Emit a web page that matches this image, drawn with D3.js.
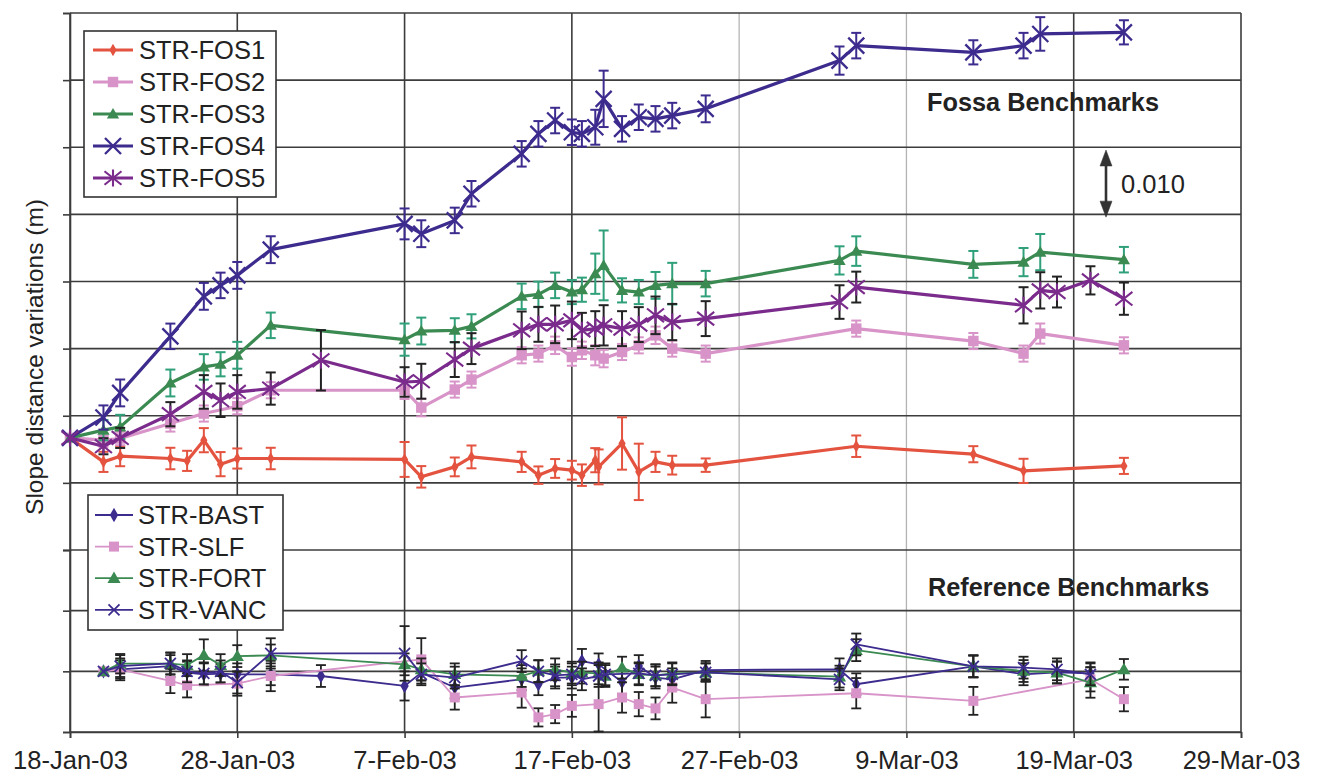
<!DOCTYPE html>
<html><head><meta charset="utf-8">
<script src="https://cdn.jsdelivr.net/npm/d3@7"></script>
<style>
body{margin:0;background:#fff}
svg{display:block}
text{font-family:"Liberation Sans",Arial,Helvetica,sans-serif;fill:#222}
</style>
</head><body>
<svg id="chart" width="1317" height="778"></svg>
<script>
// ---------- DATA (values in mm, days counted from 18-Jan-03) ----------
const BASE_DATE = "2003-01-18";
const X_TICKS = ["2003-01-18","2003-01-28","2003-02-07","2003-02-17","2003-02-27","2003-03-09","2003-03-19","2003-03-29"];

// Fossa benchmarks
const FOS1_DAYS = [0,2,3,6,7,8,9,10,12,20,21,23,24,27,28,29,30,30.6,31.4,31.6,33,34,35,36,38,47,54,57,63];
const FOS1_VAL  = [0,-3.57,-2.72,-3.07,-3.42,-0.34,-3.91,-3.07,-3.07,-3.21,-5.80,-4.32,-2.83,-3.57,-5.55,-4.55,-4.81,-5.55,-3.32,-4.32,-0.83,-5.06,-3.57,-4.06,-4.06,-1.24,-2.43,-4.91,-4.17];
const FOS1_ERR  = [0,1.5,1.5,1.6,1.5,1.8,1.8,1.5,1.6,2.6,1.6,1.4,1.7,1.5,1.3,1.4,1.4,1.6,1.8,2.6,3.9,4.2,1.5,1.4,1.0,1.6,1.2,1.8,1.2];

const FOS2_DAYS = [0,2,3,6,8,10,12,20,21,23,24,27,28,29,30,30.6,31.4,31.9,33,34,35,36,38,47,54,57,58,63];
const FOS2_VAL  = [0,-0.34,-0.09,2.14,3.63,4.72,7.10,7.10,4.52,7.20,8.69,12.31,12.56,13.79,12.05,13.05,12.31,11.82,12.80,13.79,15.28,13.30,12.56,16.28,14.43,12.56,15.54,13.79];
const FOS2_ERR  = [0,1.0,1.0,1.2,1.2,1.2,1.2,1.3,1.3,1.2,1.2,1.2,1.2,1.3,1.3,1.3,1.5,1.3,1.2,1.2,1.3,1.2,1.2,1.2,1.2,1.2,1.5,1.2];

const FOS3_DAYS = [0,2,3,6,8,9,10,12,20,21,23,24,27,28,29,30,30.6,31.4,31.9,33,34,35,36,38,46,47,54,57,58,63];
const FOS3_VAL  = [0,1.15,1.64,8.18,10.57,10.97,12.31,16.77,14.64,15.92,16.03,16.62,21.09,21.38,22.72,21.73,22.08,24.46,25.70,21.98,21.73,22.72,22.98,22.98,26.44,27.83,25.85,26.19,27.68,26.55];
const FOS3_ERR  = [0,1.5,1.8,2.0,1.9,1.8,2.0,1.9,2.4,2.0,1.8,1.8,1.9,1.9,1.9,1.8,1.8,3.0,5.2,1.8,1.8,2.0,3.1,1.9,2.1,2.2,2.0,2.1,2.7,1.9];

const FOS4_DAYS = [0,2,3,6,8,9,10,12,20,21,23,24,27,28,29,30,30.6,31.4,31.9,33,34,35,36,38,46,47,54,57,58,63];
const FOS4_VAL  = [0,3.04,6.70,15.13,21.09,22.72,24.21,28.04,31.88,30.42,32.40,36.37,42.32,45.30,47.28,45.54,45.30,46.28,50.51,46.04,47.77,47.53,48.02,49.02,56.21,58.44,57.44,58.44,60.18,60.42];
const FOS4_ERR  = [0,1.8,2.0,1.9,2.0,1.9,2.0,2.0,2.3,2.0,1.9,1.9,1.9,1.9,1.9,1.9,1.9,2.6,4.2,1.9,1.9,1.9,1.9,2.0,2.1,1.9,1.8,1.9,2.5,1.8];

const FOS5_DAYS = [0,2,3,6,8,9,10,12,15,20,21,23,24,27,28,29,30,30.6,31.4,31.9,33,34,35,36,38,46,47,57,58,59,61,63];
const FOS5_VAL  = [0,-1.24,0,3.53,6.85,5.61,6.85,7.35,11.56,8.33,8.44,11.67,13.30,16.03,16.92,16.92,17.51,16.03,16.28,16.77,16.28,16.88,18.26,17.26,17.77,20.24,22.47,19.75,21.98,21.73,23.47,20.74];
const FOS5_ERR  = [0,1.2,1.5,1.8,2.5,2.5,2.5,2.4,4.5,2.2,2.6,2.6,2.3,2.8,2.6,2.8,2.8,2.6,2.6,3.0,2.6,2.6,2.8,2.7,2.6,2.5,2.3,2.7,2.7,2.3,2.1,2.4];

// Reference benchmarks
const BAST_DAYS = [2,3,6,7,8,9,10,12,15,20,21,23,27,28,29,30,30.6,31.6,33,34,35,36,38,46,47,54,57,59,61];
const BAST_VAL  = [0,0.33,0.87,-0.21,-0.49,-0.38,-0.49,-0.49,-0.77,-2.41,-0.21,-2.67,-1.31,-2.13,-1.03,-1.03,1.69,1.15,-1.75,0.87,-1.03,-1.31,0.21,0.33,-2.13,0.82,-0.49,-0.16,-0.33];
const BAST_ERR  = [0,1.8,1.8,1.8,1.8,1.6,1.8,1.8,1.8,2.4,1.8,1.8,1.8,1.8,1.8,1.8,2.0,1.8,2.0,1.8,1.8,1.8,1.5,1.8,1.8,1.8,1.8,1.8,1.8];

const SLF_DAYS  = [2,3,6,7,10,12,21,23,27,28,29,30,31.6,33,34,35,36,38,47,54,61,63];
const SLF_VAL   = [0,0.33,-1.59,-2.30,-2.02,-0.77,1.97,-4.31,-3.49,-7.59,-7.05,-5.69,-5.41,-4.31,-5.41,-6.11,-2.67,-4.59,-3.61,-4.87,-1.31,-4.59];
const SLF_ERR   = [0,1.5,2.0,2.0,2.0,2.5,3.5,2.0,2.5,1.5,1.5,1.8,4.5,2.5,2.0,1.8,2.5,3.0,2.5,2.3,2.0,2.0];

const FORT_DAYS = [2,3,6,7,8,9,10,12,20,21,23,27,28,29,30,30.6,31.6,32,33,34,35,36,38,46,47,54,57,59,61,63];
const FORT_VAL  = [0,1.26,1.26,1.03,2.67,1.03,2.51,2.62,1.15,0.33,-0.49,-0.77,0.05,0.33,-0.21,-0.21,-0.33,-0.77,0.61,-0.49,-0.66,-0.33,-0.21,-0.87,3.49,0.82,0.05,-0.21,-1.85,0.33];
const FORT_ERR  = [0,1.6,1.8,1.8,2.6,1.8,1.8,1.8,1.8,1.8,1.8,1.8,1.8,1.8,1.8,1.8,1.8,1.8,1.8,1.8,1.8,1.8,1.5,1.8,1.8,1.8,1.8,1.8,2.5,1.7];

const VANC_DAYS = [2,3,6,7,8,9,10,12,20,21,23,27,28,29,30,30.6,31.6,32,34,35,36,38,46,47,54,57,59,61];
const VANC_VAL  = [0,0.87,1.31,0,-0.33,0,-1.85,2.95,2.95,-0.49,-1.03,1.69,0,-0.66,-0.49,-1.31,-0.77,-0.49,-0.33,-0.66,-0.49,-0.16,-1.31,4.43,0.82,0.61,0.33,-0.49];
const VANC_ERR  = [0,1.8,1.8,1.8,1.8,1.8,1.8,2.5,4.5,1.8,1.8,1.8,1.8,1.8,1.8,1.8,1.8,1.8,1.8,1.8,1.8,1.5,1.8,1.8,1.8,1.8,1.8,1.8];

const SCALE_BAR_MM = 10;   // "0.010" m arrow
const SCALE_BAR_LABEL = "0.010";
const Y_LABEL = "Slope distance variations (m)";

// ---------- STYLES ----------
const FOSSA = [
  {name:"STR-FOS1", days:FOS1_DAYS, val:FOS1_VAL, err:FOS1_ERR, color:"#e4533f", errColor:"#e4533f", marker:"diamond"},
  {name:"STR-FOS2", days:FOS2_DAYS, val:FOS2_VAL, err:FOS2_ERR, color:"#d894c8", errColor:"#d894c8", marker:"square"},
  {name:"STR-FOS3", days:FOS3_DAYS, val:FOS3_VAL, err:FOS3_ERR, color:"#3b8a52", errColor:"#2fa07a", marker:"triangle"},
  {name:"STR-FOS4", days:FOS4_DAYS, val:FOS4_VAL, err:FOS4_ERR, color:"#3d2b8e", errColor:"#3d2b8e", marker:"x"},
  {name:"STR-FOS5", days:FOS5_DAYS, val:FOS5_VAL, err:FOS5_ERR, color:"#7a2b8c", errColor:"#222222", marker:"star"}
];
const REFS = [
  {name:"STR-BAST", days:BAST_DAYS, val:BAST_VAL, err:BAST_ERR, color:"#3d2b8e", errColor:"#222222", marker:"diamond"},
  {name:"STR-SLF",  days:SLF_DAYS,  val:SLF_VAL,  err:SLF_ERR,  color:"#d894c8", errColor:"#222222", marker:"square"},
  {name:"STR-FORT", days:FORT_DAYS, val:FORT_VAL, err:FORT_ERR, color:"#3b8a52", errColor:"#222222", marker:"triangle"},
  {name:"STR-VANC", days:VANC_DAYS, val:VANC_VAL, err:VANC_ERR, color:"#3d2b8e", errColor:"#222222", marker:"x"}
];
const LIGHT_GRID = ["2003-02-27","2003-03-09"];

// ---------- SCALES ----------
const svg = d3.select("#chart");
const L = 70, R = 1241, TOP = 13, MID = 550, BOT = 732;
const base = new Date(BASE_DATE + "T00:00:00Z");
const toDate = d => new Date(base.getTime() + d * 86400000);
const tickDates = X_TICKS.map(s => new Date(s + "T00:00:00Z"));
const x = d3.scaleUtc().domain([tickDates[0], tickDates[tickDates.length-1]]).range([L, R]);
const yU = d3.scaleLinear().domain([-16.7, 63.3]).range([MID, TOP]);
const yL = d3.scaleLinear().domain([-10, 20]).range([BOT, MID]);
const gridU = d3.range(9).map(k => -16.7 + 10 * k);
const gridL = [-10, 0, 10];

// ---------- GRID ----------
const grid = svg.append("g");
tickDates.forEach((d, i) => {
  const light = LIGHT_GRID.includes(X_TICKS[i]);
  grid.append("line").attr("x1", x(d)).attr("x2", x(d)).attr("y1", TOP).attr("y2", BOT)
    .attr("stroke", light ? "#b4b4b4" : "#3c3c3c").attr("stroke-width", light ? 1.3 : 1.6);
});
gridU.forEach(v => grid.append("line").attr("x1", L).attr("x2", R).attr("y1", yU(v)).attr("y2", yU(v))
  .attr("stroke", "#3c3c3c").attr("stroke-width", 1.6));
gridL.forEach(v => grid.append("line").attr("x1", L).attr("x2", R).attr("y1", yL(v)).attr("y2", yL(v))
  .attr("stroke", "#3c3c3c").attr("stroke-width", 1.6));

// left axis ticks
const axU = svg.append("g").attr("transform", `translate(${L},0)`)
  .call(d3.axisLeft(yU).tickValues(gridU).tickSize(7).tickFormat(""));
const axL = svg.append("g").attr("transform", `translate(${L},0)`)
  .call(d3.axisLeft(yL).tickValues(gridL).tickSize(7).tickFormat(""));
[axU, axL].forEach(a => { a.select(".domain").attr("stroke", "#3c3c3c").attr("stroke-width", 1.6);
  a.selectAll(".tick line").attr("stroke", "#3c3c3c").attr("stroke-width", 1.6); });

// bottom axis
const axB = svg.append("g").attr("transform", `translate(0,${BOT})`)
  .call(d3.axisBottom(x).tickValues(tickDates).tickSize(6).tickPadding(13).tickFormat(d3.utcFormat("%-d-%b-%y")));
axB.select(".domain").attr("stroke", "#3c3c3c").attr("stroke-width", 1.6);
axB.selectAll(".tick line").attr("stroke", "#3c3c3c").attr("stroke-width", 1.6);
axB.selectAll(".tick text").attr("font-size", 25.5).attr("font-family", "Liberation Sans, Arial, sans-serif").attr("fill", "#222");

// ---------- MARKERS ----------
function marker(g, type, cx, cy, color, big) {
  if (type === "diamond") {
    g.append("path").attr("d", d3.symbol(d3.symbolDiamond, big ? 45 : 60)()).attr("transform", `translate(${cx},${cy})`).attr("fill", color);
  } else if (type === "square") {
    g.append("path").attr("d", d3.symbol(d3.symbolSquare, big ? 110 : 100)()).attr("transform", `translate(${cx},${cy})`).attr("fill", color);
  } else if (type === "triangle") {
    g.append("path").attr("d", d3.symbol(d3.symbolTriangle, big ? 65 : 75)()).attr("transform", `translate(${cx},${cy+1})`).attr("fill", color);
  } else if (type === "x") {
    const s = big ? 8 : 5.5;
    g.append("path").attr("d", `M${-s},${-s}L${s},${s}M${-s},${s}L${s},${-s}`).attr("transform", `translate(${cx},${cy})`)
      .attr("stroke", color).attr("stroke-width", big ? 2.3 : 1.8).attr("fill", "none");
  } else if (type === "star") {
    const s = 8.5;
    g.append("path").attr("d", `M${-s},${-s*0.8}L${s},${s*0.8}M${-s},${s*0.8}L${s},${-s*0.8}M0,${-s}L0,${s}`).attr("transform", `translate(${cx},${cy})`)
      .attr("stroke", color).attr("stroke-width", 2.1).attr("fill", "none");
  }
}

function drawSeries(s, y, big) {
  const g = svg.append("g");
  const pts = s.days.map((d, i) => ({px: x(toDate(d)), py: y(s.val[i]), v: s.val[i], e: s.err[i]}));
  const eb = g.append("g").attr("stroke", s.errColor).attr("stroke-width", big ? 2 : 1.8);
  const cap = 5;
  pts.forEach(p => {
    if (!p.e) return;
    const y1 = y(p.v + p.e), y2 = y(p.v - p.e);
    eb.append("line").attr("x1", p.px).attr("x2", p.px).attr("y1", y1).attr("y2", y2);
    eb.append("line").attr("x1", p.px - cap).attr("x2", p.px + cap).attr("y1", y1).attr("y2", y1);
    eb.append("line").attr("x1", p.px - cap).attr("x2", p.px + cap).attr("y1", y2).attr("y2", y2);
  });
  g.append("path").datum(pts).attr("d", d3.line().x(p => p.px).y(p => p.py))
    .attr("fill", "none").attr("stroke", s.color).attr("stroke-width", big ? 3.2 : 1.8).attr("stroke-linejoin", "round");
  const mg = g.append("g");
  pts.forEach(p => marker(mg, s.marker, p.px, p.py, s.color, big));
}

REFS.forEach(s => drawSeries(s, yL, false));
FOSSA.forEach(s => drawSeries(s, yU, true));

// ---------- LEGENDS ----------
function legend(items, bx, by, bw, bh, y0, dy, lx1, lx2, tx, big) {
  const g = svg.append("g");
  g.append("rect").attr("x", bx).attr("y", by).attr("width", bw).attr("height", bh)
    .attr("fill", "#fff").attr("stroke", "#333").attr("stroke-width", 1.6);
  items.forEach((s, i) => {
    const yy = y0 + dy * i;
    g.append("line").attr("x1", lx1).attr("x2", lx2).attr("y1", yy).attr("y2", yy)
      .attr("stroke", s.color).attr("stroke-width", big ? 3.2 : 1.8);
    marker(g, s.marker, (lx1 + lx2) / 2, yy, s.color, big);
    g.append("text").attr("x", tx).attr("y", yy).attr("dy", "0.36em").attr("font-size", 25.5).text(s.name);
  });
}
legend(FOSSA, 84, 31, 192, 166, 50, 32, 93, 133, 139, true);
legend(REFS, 88, 495, 195, 135, 515, 31.6, 95, 133, 138, false);

// ---------- ANNOTATIONS ----------
svg.append("text").attr("x", 927).attr("y", 102).attr("dy", "0.36em").attr("font-size", 25.3).attr("font-weight", "bold")
  .text("Fossa Benchmarks");
svg.append("text").attr("x", 928).attr("y", 587).attr("dy", "0.36em").attr("font-size", 25.3).attr("font-weight", "bold")
  .text("Reference Benchmarks");

// scale arrow: length = 10 mm on the upper scale
const ax = 1106, aTop = 150, aBot = aTop + (yU(0) - yU(SCALE_BAR_MM));
const ag = svg.append("g").attr("fill", "#333").attr("stroke", "#333");
ag.append("line").attr("x1", ax).attr("x2", ax).attr("y1", aTop + 10).attr("y2", aBot - 10).attr("stroke-width", 2.6);
ag.append("path").attr("d", `M${ax},${aTop}L${ax-6},${aTop+16}L${ax+6},${aTop+16}Z`).attr("stroke-width", 0.5);
ag.append("path").attr("d", `M${ax},${aBot}L${ax-6},${aBot-16}L${ax+6},${aBot-16}Z`).attr("stroke-width", 0.5);
svg.append("text").attr("x", 1121).attr("y", (aTop + aBot) / 2).attr("dy", "0.36em").attr("font-size", 25.5).text(SCALE_BAR_LABEL);

// y label
svg.append("text").attr("transform", `translate(34,357) rotate(-90)`).attr("text-anchor", "middle")
  .attr("dy", "0.36em").attr("font-size", 24.5).text(Y_LABEL);
</script>
</body></html>
